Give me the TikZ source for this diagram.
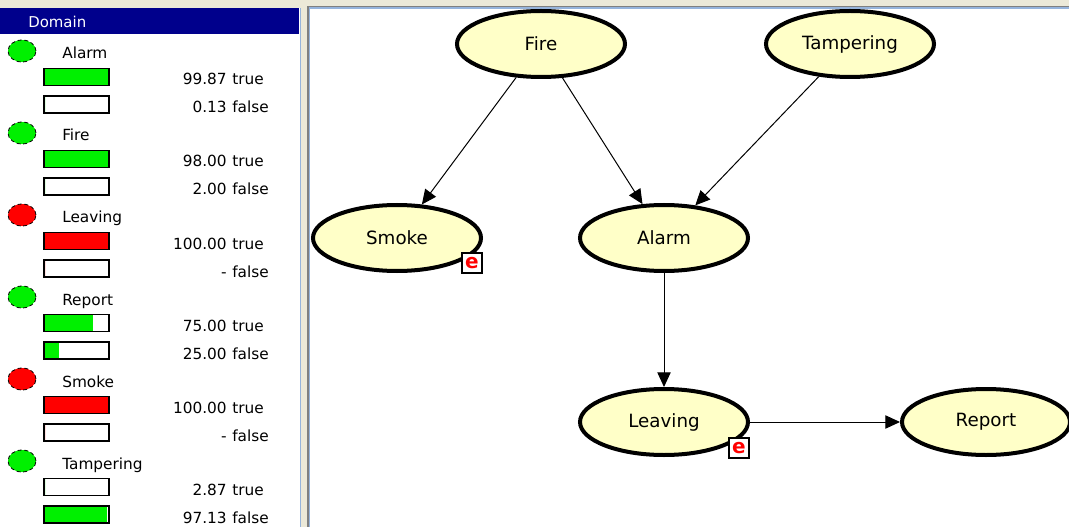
\documentclass[tikz,border=0pt]{standalone}
\usepackage{fontspec}
\setmainfont{DejaVu Sans}
\usetikzlibrary{shapes.geometric,arrows.meta,positioning}
\definecolor{panelbg}{RGB}{236,233,216}
\definecolor{headblue}{RGB}{0,0,140}
\definecolor{edgeblue}{RGB}{150,180,220}
\definecolor{nodefill}{RGB}{255,255,200}
\definecolor{lampgreen}{RGB}{0,240,0}
\definecolor{lampred}{RGB}{255,0,0}
\tikzset{x=0.75pt, y=-0.75pt, >={Triangle[length=11pt,width=10pt]}, node distance=1cm}
\tikzstyle{var} = [draw, ellipse, line width=3pt, fill=nodefill, minimum width=126pt, minimum height=49.5pt, inner sep=0pt, font=\fontsize{13.7}{14}\selectfont]
\tikzstyle{evid} = [draw, fill=white, line width=0.8pt, minimum size=15pt, inner sep=0pt, text=red, font=\fontsize{15}{15}\selectfont\bfseries]
\tikzstyle{lamp} = [draw, ellipse, line width=0.6pt, densely dashed, minimum width=21pt, minimum height=16.5pt, inner sep=0pt]
\tikzstyle{bar} = [draw, line width=1pt, minimum width=48.75pt, minimum height=12.75pt, inner sep=0pt]
\tikzstyle{rowlabel} = [anchor=base west, inner sep=0pt, font=\fontsize{11.5}{12}\selectfont]
\tikzstyle{val} = [inner sep=0pt, font=\fontsize{11.5}{12}\selectfont]
\tikzstyle{link} = [->, line width=0.75pt]
% one variable of the domain list: lamp, name and two state bars
\newcommand{\staterow}[8]{%
  \node [lamp, fill=#4] (#1_lamp) at (22,#2-1) {};
  \node [rowlabel] (#1_label) at (62,#2+7) {#3};
  \fill [#4] (45,#2+17) rectangle ({45+64*#5},#2+33);
  \node [bar] (#1_true) at (76.5,#2+25) {};
  \node [val, anchor=base east] (#1_tv) at (227,#2+33) {#6};
  \node [val, anchor=base west] (#1_tw) at (232,#2+33) {true};
  \fill [#4] (45,#2+44.5) rectangle ({45+64*#7},#2+60.5);
  \node [bar] (#1_false) at (76.5,#2+52.5) {};
  \node [val, anchor=base east] (#1_fv) at (227,#2+61) {#8};
  \node [val, anchor=base west] (#1_fw) at (232,#2+61) {false};
}

\begin{document}
\begin{tikzpicture}
		\useasboundingbox (0,0) rectangle (1069,527);
		\fill [panelbg] (0,0) rectangle (1069,527);

		% domain panel
		\fill [white] (0,8) rectangle (300,527);
		\fill [headblue] (0,8) rectangle (299,34);
		\node [anchor=base west, inner sep=0pt, text=white, font=\fontsize{11.2}{12}\selectfont] (domain) at (28,28) {Domain};
		\draw [edgeblue, line width=1.2pt] (300.5,8) -- (300.5,527);

		\staterow{alarm}{52}{Alarm}{lampgreen}{1}{99.87}{0}{0.13}
		\staterow{fire}{134}{Fire}{lampgreen}{1}{98.00}{0}{2.00}
		\staterow{leaving}{216}{Leaving}{lampred}{1}{100.00}{0}{-}
		\staterow{report}{298}{Report}{lampgreen}{0.75}{75.00}{0.22}{25.00}
		\staterow{smoke}{380}{Smoke}{lampred}{1}{100.00}{0}{-}
		\staterow{tampering}{462}{Tampering}{lampgreen}{0}{2.87}{0.97}{97.13}

		% network panel
		\fill [gray] (307,6) rectangle (1069,527);
		\fill [edgeblue] (308.5,7.5) rectangle (1069,527);
		\fill [white] (310,9.5) rectangle (1069,527);

		\node [var] (fire) at (541,44) {Fire};
		\node [var] (tampering) at (850,44) {Tampering};
		\node [var] (smoke) at (397,238) {Smoke};
		\node [var] (alarm) at (664,238) {Alarm};
		\node [var, below=85.5pt of alarm] (leaving) {Leaving};
		\node [var, right=112.5pt of leaving] (report) {Report};

		\node [evid] (smoke_e) at ([shift={(75,25)}]smoke.center) {e};
		\node [evid] (leaving_e) at ([shift={(75,26)}]leaving.center) {e};

		\draw [link] (fire) -- (smoke);
		\draw [link] (fire) -- (alarm);
		\draw [link] (tampering) -- (alarm);
		\draw [link] (alarm) -- (leaving);
		\draw [link] (leaving) -- (report);
	\end{tikzpicture}
\end{document}
